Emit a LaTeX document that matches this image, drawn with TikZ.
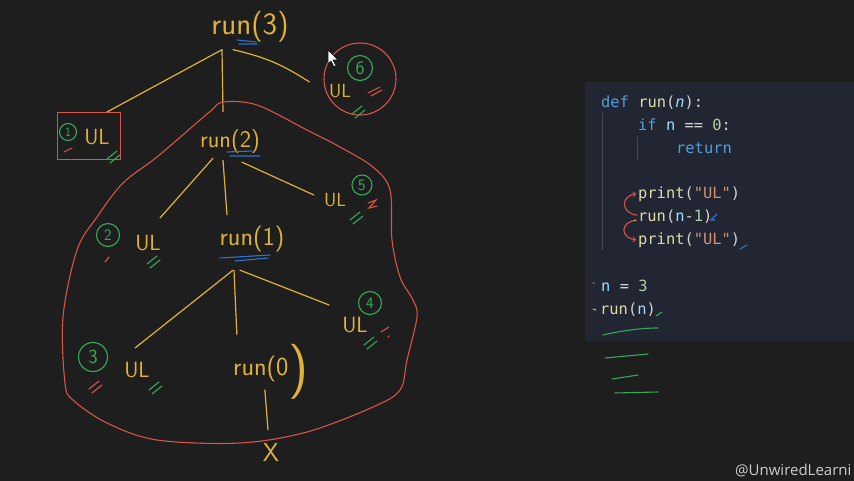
\documentclass[tikz,border=0pt]{standalone}
\usepackage{fontspec}
\setmonofont{DejaVu Sans Mono}
\newfontfamily\wmfont{Open Sans}
\usetikzlibrary{calc}

\definecolor{bg}{RGB}{30,30,30}
\definecolor{panel}{RGB}{33,38,50}
\definecolor{guide}{RGB}{66,72,86}
\definecolor{yel}{RGB}{222,178,58}
\definecolor{rd}{RGB}{214,84,74}
\definecolor{grn}{RGB}{52,170,90}
\definecolor{blu}{RGB}{45,115,205}
\definecolor{kw}{RGB}{86,156,214}
\definecolor{fn}{RGB}{220,220,170}
\definecolor{var}{RGB}{156,220,254}
\definecolor{pl}{RGB}{212,212,212}
\definecolor{numc}{RGB}{181,206,168}
\definecolor{str}{RGB}{206,145,120}
\definecolor{wm}{RGB}{205,205,205}

\begin{document}
\begin{tikzpicture}[x=1pt,y=-1pt,
  hand/.style={draw=yel,line width=1.2pt,line cap=round},
  redline/.style={draw=rd,line width=1.1pt,line cap=round},
  backarrow/.style={draw=rd,line width=1.1pt,line cap=round,->},
  call/.style={text=yel,inner sep=0pt,font=\sffamily\fontsize{#1}{#1}\selectfont},
  call/.default=26,
  ulnode/.style={text=yel,inner sep=0pt,font=\sffamily\fontsize{#1}{#1}\selectfont},
  ulnode/.default=22,
  circnum/.style={draw=grn,circle,line width=1.1pt,text=grn,inner sep=0pt,minimum size=#1,font=\sffamily\fontsize{16}{16}\selectfont},
  codeline/.style={anchor=base west,inner sep=0pt,text=pl,font=\ttfamily\fontsize{15.4}{15.4}\selectfont},
  ticks/.pic={\draw[line width=1.1pt,line cap=round] (-6,4) -- (4,-4) (-3,8) -- (7,0);}]
\useasboundingbox (0,0) rectangle (854,481);
\fill[bg] (0,0) rectangle (854,481);

% code panel
\fill[panel] (585,82) rectangle (854,341);
\draw[guide,line width=0.8pt] (602,113) -- (602,250) (637,137) -- (637,160);
\node[codeline] (l1) at (601,108) {\color{kw}def \color{fn}run\color{pl}(\color{var}\textit{n}\color{pl}):};
\node[codeline] (l2) at (638,131) {\color{kw}if \color{var}n \color{pl}== \color{numc}0\color{pl}:};
\node[codeline] (l3) at (676,154) {\color{kw}return};
\node[codeline] (l4) at (638,199) {\color{fn}print\color{pl}(\color{str}"UL"\color{pl})};
\node[codeline] (l5) at (638,222) {\color{fn}run\color{pl}(\color{var}n\color{pl}-\color{numc}1\color{pl})};
\node[codeline] (l6) at (638,244) {\color{fn}print\color{pl}(\color{str}"UL"\color{pl})};
\node[codeline] (l7) at (601,291) {\color{var}n \color{pl}= \color{numc}3};
\node[codeline] (l8) at (600,314) {\color{fn}run\color{pl}(\color{var}n\color{pl})};

\draw[backarrow] ($(l5.west)+(-1,-2)$) .. controls +(-16,-2) and +(-16,3) .. ($(l4.west)+(-2,-1)$);
\draw[backarrow] ($(l5.west)+(-2,3)$) .. controls +(-16,2) and +(-16,-2) .. ($(l6.west)+(-2,0)$);
\draw[blu,line width=1.1pt,line cap=round] (717,214) -- (711,220) -- (715,220) (740,249) -- (747,245);
\draw[yel,line width=1pt,line cap=round] (634,221) -- (636,220) (593,283) -- (594,283) (593,309) -- (596,310);
\draw[grn,line width=1.1pt,line cap=round] (656,316) -- (662,312)
  (603,335) .. controls (620,331) and (640,328) .. (658,328)
  (605,358) -- (648,354) (612,379) -- (638,375) (615,393) -- (658,392);

% call tree
\node[call=31] (r3) at (250,27) {run(3)};
\node[call=24] (r2) at (230,142) {run(2)};
\node[call=26] (r1) at (252,239) {run(1)};
\node[call=26,anchor=base west] (r0) at (233,375) {run(0\raisebox{-10pt}{\fontsize{55}{55}\selectfont)}};
\node[call=26] (xx) at (271,452) {X};

\node[draw=rd,line width=1.1pt,minimum width=63pt,minimum height=47pt,inner sep=0pt] (b1) at (89,136) {};
\node[circnum=17,font=\sffamily\fontsize{13}{13}\selectfont] (n1) at (68,132) {1};
\node[ulnode] (ul1) at (97,137) {UL};

\node[draw=rd,circle,line width=1.1pt,minimum size=72pt,inner sep=0pt] (c6) at (360,79) {};
\node[circnum=25,font=\sffamily\fontsize{19}{19}\selectfont] (n6) at (360,68) {6};
\node[ulnode=19] (ul6) at (340,91) {UL};

\node[ulnode=19] (ul5) at (335,200) {UL};
\node[circnum=20] (n5) at (362,185) {5};
\node[circnum=23] (n2) at (108,235) {2};
\node[ulnode] (ul2) at (148,243) {UL};
\node[ulnode] (ul4) at (355,325) {UL};
\node[circnum=23] (n4) at (370,303) {4};
\node[circnum=29,font=\sffamily\fontsize{20}{20}\selectfont] (n3) at (93,357) {3};
\node[ulnode] (ul3) at (137,370) {UL};

\draw[hand] ($(r3.south)+(-28,7)$) -- ($(b1.north east)+(-14,0)$);
\draw[hand] ($(r3.south)+(-28,7)$) -- ($(r2.north)+(-7,-18)$);
\draw[hand] ($(r3.south)+(-17,7)$) to[bend left=10] ($(c6.west)+(-14,3)$);
\draw[hand] ($(r2.south)+(-17,4)$) -- ($(ul2.north)+(12,-17)$);
\draw[hand] ($(r2.south)+(-7,6)$) -- ($(r1.north)+(-25,-11)$);
\draw[hand] ($(r2.south)+(12,8)$) -- ($(ul5.west)+(-10,-5)$);
\draw[hand] ($(r1.south)+(-19,18)$) -- ($(ul3.north)+(-2,-14)$);
\draw[hand] ($(r1.south)+(-18,18)$) -- ($(r0.north)+(-34,-9)$);
\draw[hand] ($(r1.south)+(-12,18)$) -- ($(ul4.west)+(-13,-20)$);
\draw[hand] ($(r0.south)+(-6,-9)$) -- ($(xx.north)+(-3,-13)$);

% underlines and marks
\draw[blu,line width=1.1pt,line cap=round] (237,40) -- (256,42) (239,44) -- (257,44)
  (227,152) -- (252,151) (230,156) -- (260,156)
  (220,258) -- (270,255) (235,261) -- (268,258);
\draw[redline] (64,152) -- (72,148) (368,93) -- (380,87) (371,96) -- (382,90)
  (368,203) -- (376,200) -- (369,208) -- (377,206) (105,262) -- (109,257)
  (381,332) -- (389,327) (388,337) -- (389,336);
\pic[grn] at (358,110) {ticks};
\pic[grn] at (113,155) {ticks};
\pic[grn] at (356,216) {ticks};
\pic[grn] at (153,260) {ticks};
\pic[grn] at (370,341) {ticks};
\pic[grn] at (155,386) {ticks};
\pic[rd] at (95,385) {ticks};

\draw[rd,line width=1.1pt] plot[smooth cycle,tension=0.55] coordinates {(223,102) (257,105) (307,130) (340,147) (373,167) (390,190) (392,240) (400,277) (413,300) (417,317) (407,360) (400,390) (373,407) (307,432) (240,443) (157,440) (107,423) (73,400) (65,383) (63,317) (77,250) (97,217) (123,183) (157,157) (200,120) (212,110)};

% pointer
\filldraw[fill=white,draw=black,line width=0.5pt] (328,50) -- (328,64) -- (331,61) -- (334,67) -- (336,66) -- (333,60) -- (338,60) -- cycle;

\node[anchor=base west,inner sep=0pt,text=wm,font=\wmfont\fontsize{15}{15}\selectfont] (wmark) at (735,475) {@UnwiredLearni};
\end{tikzpicture}
\end{document}
